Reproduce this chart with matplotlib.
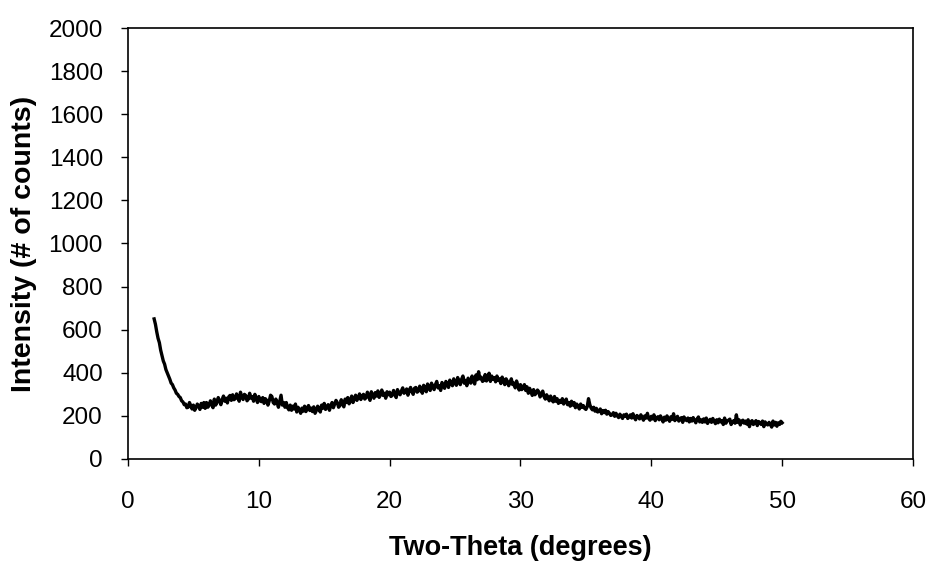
import numpy as np
import matplotlib.pyplot as plt

plt.rcParams["font.family"] = ["Liberation Sans", "DejaVu Sans"]

# Two-theta grid (degrees), 0.1 deg steps from 2 to 50
two_theta = np.round(np.arange(2.0, 50.0001, 0.1), 1)

# Intensity, one row per degree
intensity = [
    650, 625, 590, 560, 540, 505, 480, 455, 440, 415,   # 2
    400, 385, 370, 352, 345, 330, 320, 305, 300, 290,   # 3
    285, 270, 265, 252, 255, 238, 240, 262, 248, 232,   # 4
    250, 226, 238, 255, 245, 230, 258, 240, 262, 235,   # 5
    262, 240, 248, 270, 255, 238, 278, 250, 262, 285,   # 6
    270, 252, 276, 292, 268, 282, 260, 288, 295, 272,   # 7
    298, 275, 280, 302, 284, 268, 310, 288, 276, 300,   # 8
    295, 270, 278, 305, 282, 290, 268, 300, 282, 262,   # 9
    290, 270, 266, 285, 258, 280, 272, 250, 270, 296,   # 10
    290, 262, 255, 278, 262, 240, 268, 296, 250, 262,   # 11
    240, 262, 238, 228, 250, 226, 245, 232, 255, 218,   # 12
    240, 228, 212, 236, 222, 245, 220, 236, 248, 225,   # 13
    236, 220, 242, 212, 225, 245, 230, 218, 250, 236,   # 14
    258, 230, 242, 252, 226, 248, 262, 238, 255, 272,   # 15
    262, 240, 248, 275, 255, 242, 278, 262, 285, 256,   # 16
    270, 292, 262, 280, 296, 272, 285, 302, 276, 290,   # 17
    300, 278, 285, 310, 290, 272, 312, 295, 282, 308,   # 18
    292, 316, 286, 298, 320, 295, 305, 282, 312, 298,   # 19
    310, 290, 295, 318, 300, 285, 322, 305, 298, 316,   # 20
    330, 305, 310, 325, 296, 318, 332, 312, 300, 328,   # 21
    332, 310, 315, 338, 320, 305, 342, 326, 312, 348,   # 22
    330, 318, 352, 336, 322, 345, 360, 330, 340, 318,   # 23
    355, 338, 328, 360, 345, 332, 366, 350, 340, 372,   # 24
    355, 342, 378, 358, 345, 370, 385, 352, 365, 340,   # 25
    375, 360, 352, 385, 362, 348, 390, 368, 405, 372,   # 26
    380, 360, 365, 392, 362, 378, 398, 360, 385, 370,   # 27
    378, 358, 385, 364, 372, 350, 380, 365, 345, 372,   # 28
    360, 340, 356, 372, 345, 352, 330, 362, 342, 320,   # 29
    345, 322, 332, 345, 318, 335, 305, 328, 312, 295,   # 30
    322, 298, 305, 320, 312, 288, 300, 315, 290, 278,   # 31
    298, 285, 270, 292, 275, 265, 290, 268, 280, 258,   # 32
    272, 262, 280, 255, 268, 278, 252, 262, 245, 268,   # 33
    250, 262, 238, 255, 245, 232, 255, 240, 248, 235,   # 34
    230, 242, 280, 252, 236, 228, 240, 222, 235, 218,   # 35
    222, 232, 210, 225, 215, 226, 208, 220, 212, 202,   # 36
    205, 215, 198, 212, 200, 192, 208, 198, 188, 205,   # 37
    198, 208, 188, 195, 205, 190, 210, 192, 182, 202,   # 38
    196, 186, 205, 192, 180, 200, 190, 212, 188, 180,   # 39
    198, 186, 205, 178, 190, 196, 182, 200, 188, 172,   # 40
    194, 180, 200, 186, 175, 196, 184, 210, 178, 190,   # 41
    198, 176, 185, 192, 170, 195, 184, 178, 190, 172,   # 42
    188, 176, 192, 180, 168, 185, 195, 172, 182, 170,   # 43
    186, 172, 190, 165, 178, 184, 170, 188, 176, 164,   # 44
    182, 168, 185, 172, 178, 160, 190, 166, 176, 180,   # 45
    185, 160, 172, 178, 166, 205, 170, 182, 158, 176,   # 46
    180, 166, 176, 162, 182, 150, 172, 178, 160, 170,   # 47
    178, 155, 174, 168, 160, 176, 150, 172, 162, 158,   # 48
    170, 160, 148, 176, 158, 170, 152, 168, 160, 175,   # 49
    168,                                                # 50
]

x_ticks = [0, 10, 20, 30, 40, 50, 60]
y_ticks = list(range(0, 2001, 200))

fig = plt.figure(figsize=(9.32, 5.67), dpi=100)
ax = fig.add_axes([0.1373, 0.1905, 0.8423, 0.7601])

ax.plot(two_theta, intensity, color="black", lw=2.4)

ax.set_xlim(0, 60)
ax.set_ylim(0, 2000)
ax.set_xticks(x_ticks)
ax.set_yticks(y_ticks)
ax.tick_params(direction="out", length=5, width=1, labelsize=17.5)
ax.tick_params(axis="x", pad=18)
ax.tick_params(axis="y", pad=13)
for s in ax.spines.values():
    s.set_linewidth(1.2)

ax.set_xlabel("Two-Theta (degrees)", fontsize=19.5, fontweight="bold", labelpad=16)
ax.set_ylabel("Intensity (# of counts)", fontsize=20.5, fontweight="bold", labelpad=8)

fig.savefig("out.png", dpi=100)
